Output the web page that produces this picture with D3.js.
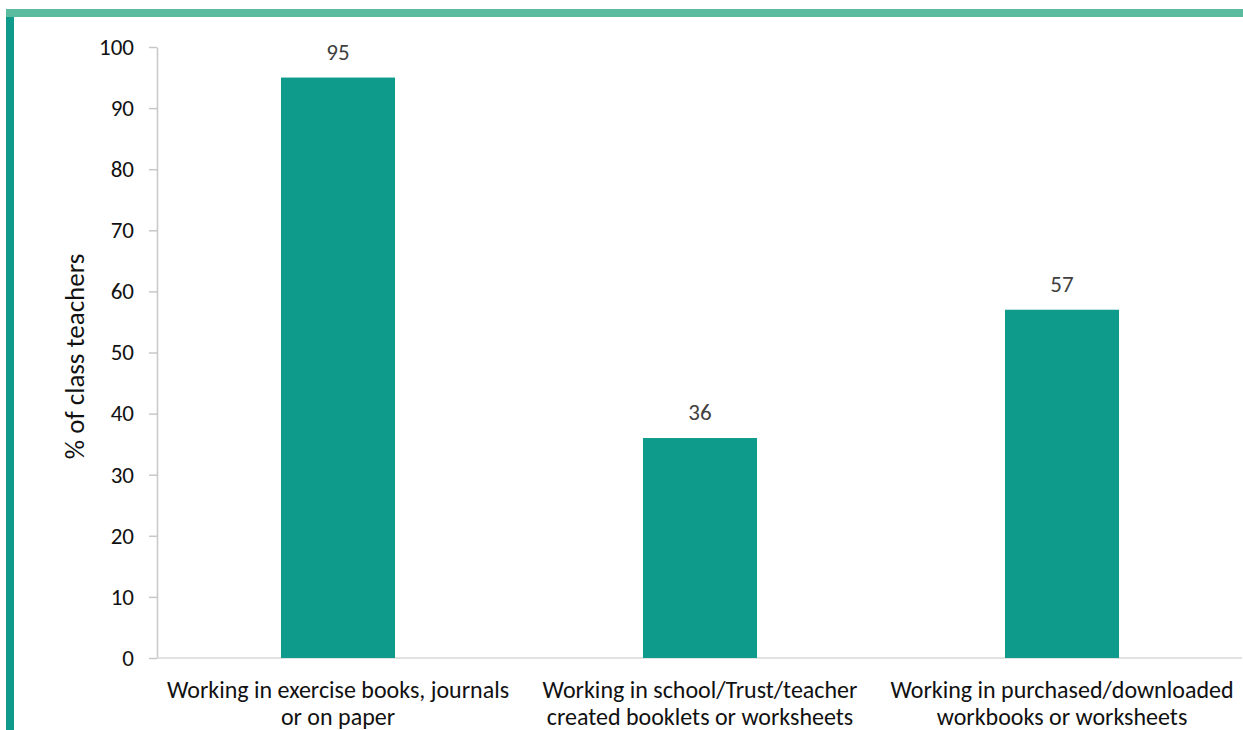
<!DOCTYPE html>
<html>
<head>
<meta charset="utf-8">
<script src="https://cdn.jsdelivr.net/npm/d3@7"></script>
<style>
  html, body { margin: 0; padding: 0; background: #fff; }
  svg { display: block; font-family: Carlito, Lato, "Open Sans", sans-serif; }
</style>
</head>
<body>
<svg id="chart" width="1243" height="730"></svg>
<script>
// Share of class teachers using each type of written work
const categories = [
  "Working in exercise books, journals\nor on paper",
  "Working in school/Trust/teacher\ncreated booklets or worksheets",
  "Working in purchased/downloaded\nworkbooks or worksheets"
];
const values = [95, 36, 57];
const yTicks = [0, 10, 20, 30, 40, 50, 60, 70, 80, 90, 100];
const yTitle = "% of class teachers";

const svg = d3.select("#chart");
const W = 1243, H = 730;
const margin = { top: 47, right: 0, bottom: 72, left: 157 };

// decorative frame: top band and left band
svg.append("rect").attr("x", 6).attr("y", 9).attr("width", W - 6).attr("height", 8).attr("fill", "#5bbb9e");
svg.append("rect").attr("x", 6).attr("y", 17).attr("width", 8).attr("height", H - 17).attr("fill", "#0f9b8c");

const x = d3.scaleBand()
  .domain(categories)
  .range([margin.left, W - margin.right])
  .paddingInner(0.685)
  .paddingOuter(0.3425);

const y = d3.scaleLinear()
  .domain([0, 100])
  .range([H - margin.bottom, margin.top]);

// y axis
const yAxis = svg.append("g")
  .attr("transform", `translate(${margin.left},0)`)
  .call(d3.axisLeft(y).tickValues(yTicks).tickSize(8).tickPadding(15).tickSizeOuter(0));
yAxis.select(".domain").attr("stroke", "#c8c8c8").attr("stroke-width", 1.5);
yAxis.selectAll(".tick line").attr("stroke", "#c8c8c8").attr("stroke-width", 1.5);
yAxis.selectAll(".tick text").attr("font-size", 23).attr("fill", "#111").attr("font-family", "Carlito, Lato, sans-serif");

// x axis baseline
svg.append("line")
  .attr("x1", margin.left).attr("x2", W - 1)
  .attr("y1", y(0)).attr("y2", y(0))
  .attr("stroke", "#d9d9d9").attr("stroke-width", 1.5);

// bars
svg.append("g").selectAll("rect")
  .data(categories.map((c, i) => ({ c, v: values[i] })))
  .join("rect")
  .attr("x", d => x(d.c))
  .attr("width", x.bandwidth())
  .attr("y", d => y(d.v))
  .attr("height", d => y(0) - y(d.v))
  .attr("fill", "#0f9b8c");

// value labels
svg.append("g").selectAll("text")
  .data(categories.map((c, i) => ({ c, v: values[i] })))
  .join("text")
  .attr("x", d => x(d.c) + x.bandwidth() / 2)
  .attr("y", d => y(d.v) - 18)
  .attr("text-anchor", "middle")
  .attr("font-size", 23)
  .attr("fill", "#404040")
  .text(d => d.v);

// category labels
const catG = svg.append("g");
categories.forEach(c => {
  const t = catG.append("text")
    .attr("x", x(c) + x.bandwidth() / 2)
    .attr("y", 698)
    .attr("text-anchor", "middle")
    .attr("font-size", 24)
    .attr("fill", "#111");
  c.split("\n").forEach((line, i) => {
    t.append("tspan")
      .attr("x", x(c) + x.bandwidth() / 2)
      .attr("dy", i === 0 ? 0 : 27)
      .text(line);
  });
});

// y axis title
svg.append("text")
  .attr("transform", `translate(84,${(margin.top + y(0)) / 2 + 4}) rotate(-90)`)
  .attr("text-anchor", "middle")
  .attr("font-size", 27)
  .attr("fill", "#111")
  .text(yTitle);
</script>
</body>
</html>
